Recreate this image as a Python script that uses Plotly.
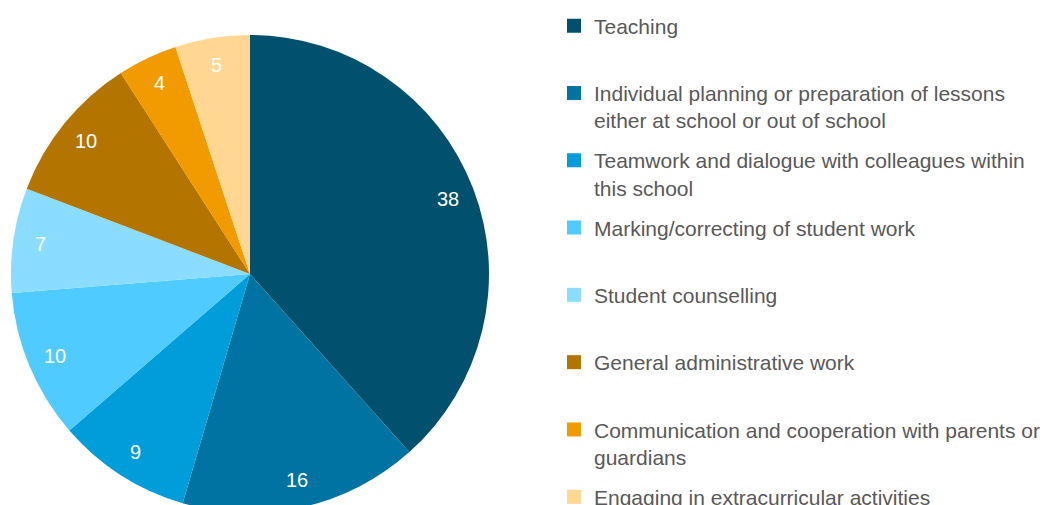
import math
import plotly.graph_objects as go

# Share of working time (%) by activity
categories = [
    "Teaching",
    "Individual planning or preparation of lessons<br>either at school or out of school",
    "Teamwork and dialogue with colleagues within<br>this school",
    "Marking/correcting of student work",
    "Student counselling",
    "General administrative work",
    "Communication and cooperation with parents or<br>guardians",
    "Engaging in extracurricular activities",
]
values = [38, 16, 9, 10, 7, 10, 4, 5]
colors = ["#00506E", "#0073A3", "#009DDB", "#4FCBFF", "#8ADDFF",
          "#B47400", "#F29B00", "#FFD692"]

W, H = 1050, 560
FONT = "Arial, Liberation Sans, sans-serif"

# pie placement (pixels)
CX, CY, R = 250, 274, 239
dom_x = [(CX - R) / W, (CX + R) / W]
dom_y = [1 - (CY + R) / H, 1 - (CY - R) / H]

fig = go.Figure()
fig.add_trace(go.Pie(
    labels=[c.replace("<br>", " ") for c in categories],
    values=values,
    marker=dict(colors=colors, line=dict(width=0)),
    sort=False,
    direction="clockwise",
    rotation=0,
    textinfo="none",
    showlegend=False,
    domain=dict(x=dom_x, y=dom_y),
))

# legend entries: one group each so every entry gets the same pitch
for i, (name, col) in enumerate(zip(categories, colors)):
    label = name if "<br>" in name else name + "<br>\u00a0"
    fig.add_trace(go.Scatter(
        x=[None], y=[None], mode="markers", name=label,
        marker=dict(symbol="square", size=14, color=col),
        legendgroup=f"g{i}", showlegend=True, hoverinfo="skip",
    ))

# value labels placed near the rim at each slice's mid-angle
total = sum(values)
cum = 0
annotations = []
for v in values:
    mid = (cum + v / 2) / total * 2 * math.pi
    cum += v
    rl = 0.885 * R
    px = CX + rl * math.sin(mid)
    py = CY - rl * math.cos(mid)
    annotations.append(dict(
        x=px / W, y=1 - py / H, xref="paper", yref="paper",
        xanchor="center", yanchor="middle",
        text=str(v), showarrow=False,
        font=dict(family=FONT, size=20, color="white"),
    ))

fig.update_layout(
    width=W, height=H,
    margin=dict(l=0, r=0, t=0, b=0),
    paper_bgcolor="white", plot_bgcolor="white",
    xaxis=dict(visible=False), yaxis=dict(visible=False),
    font=dict(family=FONT, size=21, color="#595959"),
    legend=dict(
        x=554 / W, xanchor="left",
        y=1 - 5.5 / H, yanchor="top",
        valign="top",
        tracegroupgap=9.7,
        font=dict(family=FONT, size=21, color="#595959"),
        bgcolor="rgba(0,0,0,0)",
    ),
    annotations=annotations,
)

fig.write_html(
    "out.html",
    post_script="document.documentElement.style.overflow='hidden';"
                "document.body.style.overflow='hidden';",
)
